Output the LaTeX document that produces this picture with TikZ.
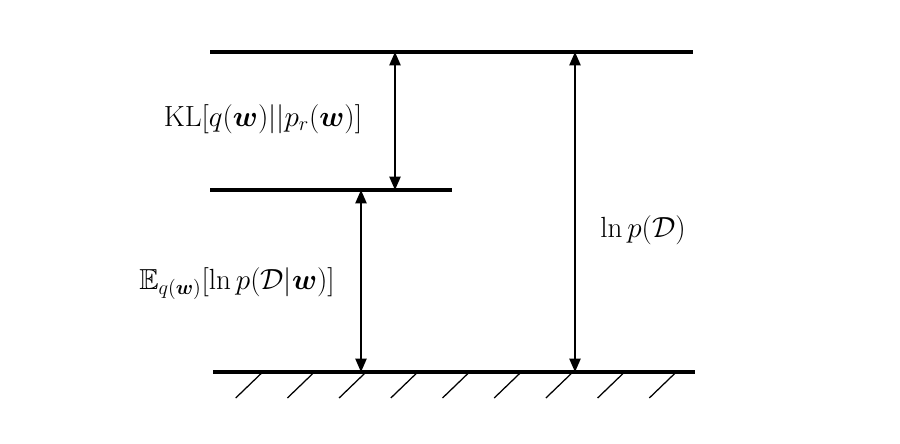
\documentclass[tikz,border=0pt]{standalone}
\usepackage{amsmath,amssymb,bm}
\usetikzlibrary{arrows.meta, positioning}

\begin{document}
\begin{tikzpicture}[x=0.025cm, y=-0.025cm, font=\fontsize{20.6}{24}\selectfont,
    level/.style={line width=2.4pt},
    hatch/.style={line width=0.9pt},
    gap/.style={{Triangle[length=9.5pt,width=8pt]}-{Triangle[length=9.5pt,width=8pt]}, line width=1.1pt}]
    \useasboundingbox (0,0) rectangle (900,444);
    \def\yT{52} \def\yM{190} \def\yB{372}
    % Levels
    \coordinate (top-l) at (210,\yT); \coordinate (top-r) at (693,\yT);
    \coordinate (mid-l) at (210,\yM); \coordinate (mid-r) at (452,\yM);
    \coordinate (bot-l) at (213,\yB); \coordinate (bot-r) at (695,\yB);
    \draw[level] (top-l) -- (top-r);
    \draw[level] (mid-l) -- (mid-r);
    \draw[level] (bot-l) -- (bot-r);
    % Ground hatching
    \foreach \x in {0,...,8} {
        \draw[hatch] (262.7+51.7*\x,\yB) -- ++(-27,26);
    }
    % KL gap
    \coordinate (kl-a) at (395,\yT); \coordinate (kl-b) at (395,\yM);
    \draw[gap] (kl-a) -- (kl-b);
    \node (kl) at (263,119) {$\mathrm{KL}[q(\bm{w})||p_r(\bm{w})]$};
    % Expectation gap
    \coordinate (ex-a) at (361,\yM); \coordinate (ex-b) at (361,\yB);
    \draw[gap] (ex-a) -- (ex-b);
    \node (ex) at (237,284) {$\mathbb{E}_{q(\bm{w})}[\ln p(\mathcal{D}|\bm{w})]$};
    % Evidence
    \coordinate (ev-a) at (575,\yT); \coordinate (ev-b) at (575,\yB);
    \draw[gap] (ev-a) -- (ev-b);
    \node (ev) at (643,230) {$\ln p(\mathcal{D})$};
\end{tikzpicture}
\end{document}
